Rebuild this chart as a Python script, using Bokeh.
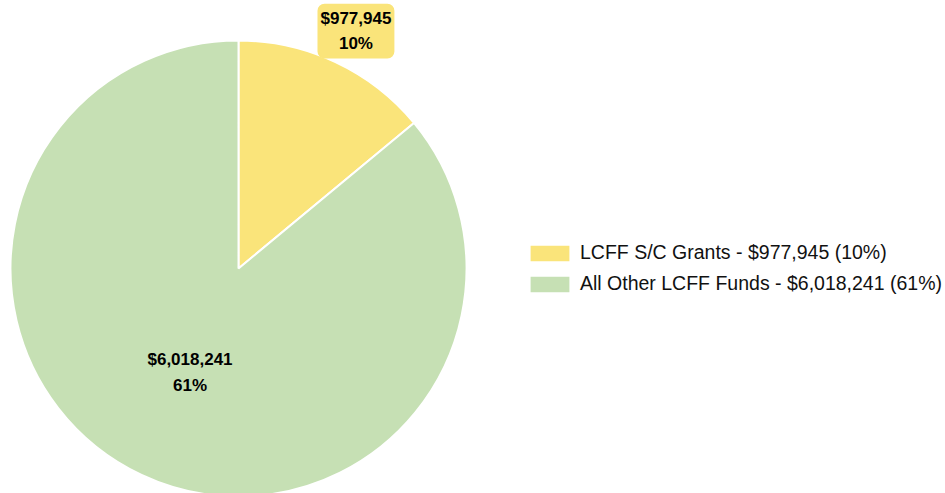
import math
from bokeh.plotting import figure
from bokeh.models import ColumnDataSource, Range1d, Label, Legend, LegendItem
from bokeh.embed import file_html
from bokeh.resources import INLINE

categories = ["LCFF S/C Grants", "All Other LCFF Funds"]
values = [977945, 6018241]
percents = [10, 61]
colors = ["#FAE47A", "#C6E0B4"]

W, H = 945, 493
cx, cy, r = 238, H - 268, 228

total = sum(values)
starts, ends, mids = [], [], []
acc = 0.0
for v in values:
    a0 = math.pi / 2 - 2 * math.pi * acc / total
    acc += v
    a1 = math.pi / 2 - 2 * math.pi * acc / total
    starts.append(a0); ends.append(a1); mids.append((a0 + a1) / 2)

fmt = lambda v: "${:,}".format(v)
legend_labels = [f"{c} - {fmt(v)} ({p}%)" for c, v, p in zip(categories, values, percents)]

src = ColumnDataSource(dict(start=starts, end=ends, color=colors, label=legend_labels))

p = figure(width=W, height=H, output_backend="svg", toolbar_location=None,
           x_range=Range1d(0, W), y_range=Range1d(0, H), min_border=0)
p.axis.visible = False
p.grid.visible = False
p.outline_line_color = None
p.background_fill_color = "white"

rend = p.wedge(x=cx, y=cy, radius=r, start_angle="start", end_angle="end",
               direction="clock", fill_color="color", line_color="white",
               line_width=2, source=src)

# value labels
for i, (v, pc, m) in enumerate(zip(values, percents, mids)):
    frac = v / total
    if frac < 0.2:
        dist = r * 1.16
        bg = colors[i]
        xo, yo = 5, -2
    else:
        dist = r * 0.5
        bg = None
        xo, yo = 0, -1
    lx = cx + dist * math.cos(m)
    ly = cy + dist * math.sin(m)
    lab = Label(x=lx, y=ly, x_offset=xo, y_offset=yo, text=f"{fmt(v)}\n{pc}%",
                text_align="center", text_baseline="middle",
                text_font="Liberation Sans", text_font_style="bold",
                text_font_size="17px", text_color="black", text_line_height=1.35,
                background_fill_color=bg, padding=(3, 5), border_radius=7)
    p.add_layout(lab)

items = [LegendItem(label=lab, renderers=[rend], index=i) for i, lab in enumerate(legend_labels)]
legend = Legend(items=items, location=(524, H - 295), orientation="vertical",
                glyph_width=51, glyph_height=22, label_height=22, spacing=8,
                label_standoff=5, label_text_font="Liberation Sans",
                label_text_font_size="19.5px", label_text_color="#111111",
                padding=0, margin=0, border_line_color=None,
                background_fill_alpha=0)
p.add_layout(legend, "center")

open("out.html", "w").write(file_html(p, INLINE))
